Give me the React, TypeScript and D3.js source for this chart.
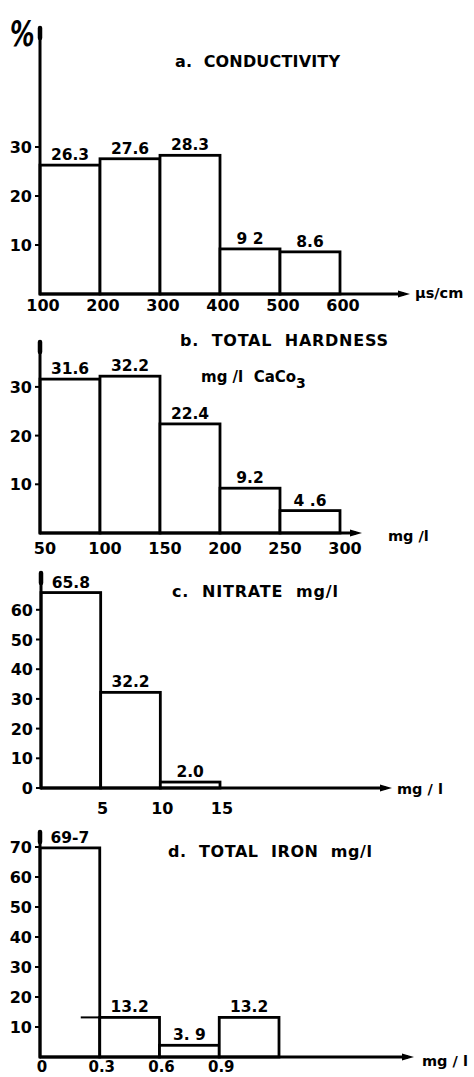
import React from "react";
import * as d3 from "d3";

// ---------- data ----------
const condEdges = [100, 200, 300, 400, 500, 600];
const condValues = [26.3, 27.6, 28.3, 9.2, 8.6];
const condLabels = ["26.3", "27.6", "28.3", "9 2", "8.6"];
const condXTicks = [100, 200, 300, 400, 500, 600];
const condYTicks = [10, 20, 30];

const hardEdges = [50, 100, 150, 200, 250, 300];
const hardValues = [31.6, 32.2, 22.4, 9.2, 4.6];
const hardLabels = ["31.6", "32.2", "22.4", "9.2", "4 .6"];
const hardXTicks = [50, 100, 150, 200, 250, 300];
const hardYTicks = [10, 20, 30];

const nitEdges = [0, 5, 10, 15];
const nitValues = [65.8, 32.2, 2.0];
const nitLabels = ["65.8", "32.2", "2.0"];
const nitXTicks = [5, 10, 15];
const nitYTicks = [0, 10, 20, 30, 40, 50, 60];

const ironEdges = [0, 0.3, 0.6, 0.9, 1.2];
const ironValues = [69.7, 13.2, 3.9, 13.2];
const ironLabels = ["69-7", "13.2", "3. 9", "13.2"];
const ironXTicks = [0, 0.3, 0.6, 0.9];
const ironXTickLabels = ["0", "0.3", "0.6", "0.9"];
const ironYTicks = [10, 20, 30, 40, 50, 60, 70];

const FONT = "'DejaVu Sans', sans-serif";

type PanelProps = {
  edges: number[];
  values: number[];
  labels: string[];
  xTicks: number[];
  xTickLabels?: string[];
  yTicks: number[];
  xDomain: [number, number];
  xRange: [number, number];
  yBase: number;
  yPer10: number;
  yTop: number;
  xAxisEnd: number;
  xTickY: number;
  xTickDx: number;
  xTickSize?: number;
  unit: string;
  unitX: number;
  unitY: number;
};

function Panel(p: PanelProps) {
  const x = d3.scaleLinear().domain(p.xDomain).range(p.xRange);
  const y = d3.scaleLinear().domain([0, 10]).range([p.yBase, p.yBase - p.yPer10]);
  const x0 = x(p.edges[0]);
  return (
    <g>
      {p.values.map((v, i) => {
        const xa = x(p.edges[i]);
        const xb = x(p.edges[i + 1]);
        return (
          <g key={i}>
            <rect
              x={xa}
              y={y(v)}
              width={xb - xa}
              height={p.yBase - y(v)}
              fill="#fff"
              stroke="#000"
              strokeWidth={2.8}
            />
            <text
              x={(xa + xb) / 2}
              y={y(v) - 5}
              textAnchor="middle"
              fontFamily={FONT}
              fontWeight="bold"
              fontSize={15.5}
            >
              {p.labels[i]}
            </text>
          </g>
        );
      })}
      {/* y axis */}
      <line x1={x0} x2={x0} y1={p.yBase} y2={p.yTop} stroke="#000" strokeWidth={3} strokeLinecap="round" />
      <line x1={x0} x2={x0} y1={p.yTop + 10} y2={p.yTop} stroke="#000" strokeWidth={4.5} strokeLinecap="round" />
      {/* x axis with arrow */}
      <line x1={x0} x2={p.xAxisEnd - 6} y1={p.yBase} y2={p.yBase} stroke="#000" strokeWidth={2.8} />
      <path
        d={`M${p.xAxisEnd},${p.yBase} L${p.xAxisEnd - 12},${p.yBase - 3.5} L${p.xAxisEnd - 12},${p.yBase + 3.5} Z`}
        fill="#000"
      />
      {p.yTicks.map((t) => (
        <g key={t}>
          <line x1={x0 - 5} x2={x0} y1={y(t)} y2={y(t)} stroke="#000" strokeWidth={2} />
          <text
            x={x0 - 8}
            y={y(t) + 6}
            textAnchor="end"
            fontFamily={FONT}
            fontWeight="bold"
            fontSize={16}
          >
            {t}
          </text>
        </g>
      ))}
      {p.xTicks.map((t, i) => (
        <text
          key={t}
          x={x(t) + p.xTickDx}
          y={p.xTickY}
          textAnchor="middle"
          fontFamily={FONT}
          fontWeight="bold"
          fontSize={p.xTickSize ?? 16}
        >
          {p.xTickLabels ? p.xTickLabels[i] : t}
        </text>
      ))}
      <text x={p.unitX} y={p.unitY} fontFamily={FONT} fontWeight="bold" fontSize={14.5}>
        {p.unit}
      </text>
    </g>
  );
}

function Title({ x, y, text, len }: { x: number; y: number; text: string; len: number }) {
  return (
    <text
      x={x}
      y={y}
      fontFamily={FONT}
      fontWeight="bold"
      fontSize={16}
      textLength={len}
      lengthAdjust="spacing"
      style={{ whiteSpace: "pre" }}
    >
      {text}
    </text>
  );
}

export default function App() {
  const ironX = d3.scaleLinear().domain([0, 1.2]).range([40, 279]);
  const ironY = d3.scaleLinear().domain([0, 10]).range([1057, 1027]);
  return (
    <svg
      width={474}
      height={1077}
      style={{ position: "absolute", left: 0, top: 0, background: "#fff" }}
    >
      <rect width={474} height={1077} fill="#fff" />
      <text
        x={0}
        y={0}
        fontFamily={FONT}
        fontStyle="italic"
        fontWeight="bold"
        fontSize={36}
        transform="translate(10,46) scale(0.68,1)"
      >
        %
      </text>

      {/* a. conductivity */}
      <Title x={175} y={67} text="a.  CONDUCTIVITY" len={165} />
      <Panel
        edges={condEdges}
        values={condValues}
        labels={condLabels}
        xTicks={condXTicks}
        yTicks={condYTicks}
        xDomain={[100, 600]}
        xRange={[40, 340]}
        yBase={294}
        yPer10={49}
        yTop={28}
        xAxisEnd={410}
        xTickY={311}
        xTickDx={3}
        unit="µs/cm"
        unitX={415}
        unitY={298}
      />

      {/* b. total hardness */}
      <Title x={180} y={346} text="b.  TOTAL  HARDNESS" len={208} />
      <text x={201} y={382} fontFamily={FONT} fontWeight="bold" fontSize={15} style={{ whiteSpace: "pre" }}>
        {"mg /l  CaCo"}
        <tspan dy={6} fontSize={14}>3</tspan>
      </text>
      <Panel
        edges={hardEdges}
        values={hardValues}
        labels={hardLabels}
        xTicks={hardXTicks}
        yTicks={hardYTicks}
        xDomain={[50, 300]}
        xRange={[40, 340]}
        yBase={533}
        yPer10={48.7}
        yTop={342}
        xAxisEnd={362}
        xTickY={554}
        xTickDx={5}
        unit="mg /l"
        unitX={388}
        unitY={541}
      />

      {/* c. nitrate */}
      <Title x={172} y={597} text="c.  NITRATE  mg/l" len={166} />
      <Panel
        edges={nitEdges}
        values={nitValues}
        labels={nitLabels}
        xTicks={nitXTicks}
        yTicks={nitYTicks}
        xDomain={[0, 15]}
        xRange={[41, 220]}
        yBase={788}
        yPer10={29.7}
        yTop={573}
        xAxisEnd={392}
        xTickY={814}
        xTickDx={2}
        unit="mg / l"
        unitX={397}
        unitY={794}
      />

      {/* d. total iron */}
      <Title x={168} y={857} text="d.  TOTAL  IRON  mg/l" len={204} />
      <Panel
        edges={ironEdges}
        values={ironValues}
        labels={ironLabels}
        xTicks={ironXTicks}
        xTickLabels={ironXTickLabels}
        yTicks={ironYTicks}
        xDomain={[0, 1.2]}
        xRange={[40, 279]}
        yBase={1057}
        yPer10={30}
        yTop={832}
        xAxisEnd={414}
        xTickY={1072}
        xTickDx={2}
        xTickSize={15}
        unit="mg / l"
        unitX={422}
        unitY={1066}
      />
      {/* stray dash left of the second iron bar */}
      <line
        x1={ironX(0.3) - 19}
        x2={ironX(0.3)}
        y1={ironY(ironValues[1])}
        y2={ironY(ironValues[1])}
        stroke="#000"
        strokeWidth={2}
      />
    </svg>
  );
}
